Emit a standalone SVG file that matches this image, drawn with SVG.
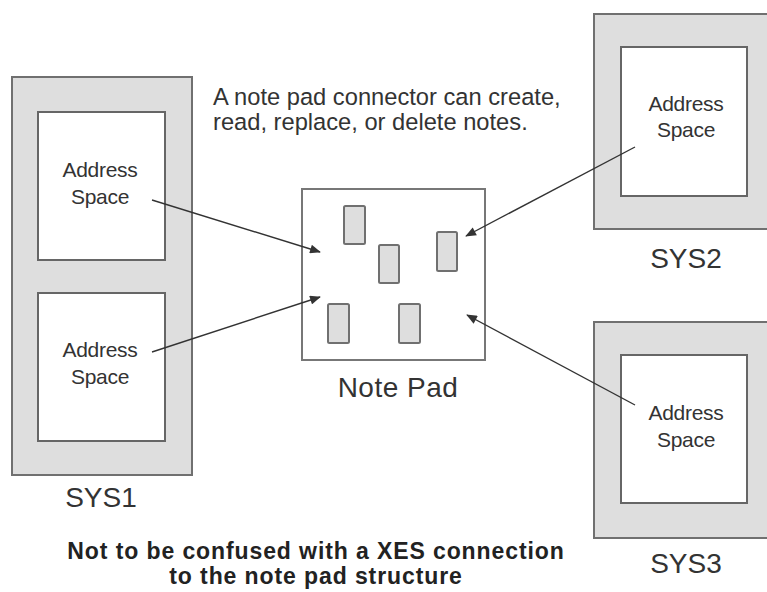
<svg xmlns="http://www.w3.org/2000/svg" width="767" height="592" viewBox="0 0 767 592">
<style>
.sys{fill:#dedede;stroke:#707070;stroke-width:2}
.as{fill:#ffffff;stroke:#666666;stroke-width:2}
.note{fill:#dedede;stroke:#707070;stroke-width:2}
.pad{fill:#ffffff;stroke:#777777;stroke-width:2}
.t{font-family:"Liberation Sans",Arial,sans-serif;fill:#333333}
.ast{font-size:21px;text-anchor:middle;letter-spacing:-0.3px}
.lbl{font-size:28px;text-anchor:middle}
.foot{font-size:23px;font-weight:bold;text-anchor:middle;letter-spacing:0.9px;fill:#222222}
.conn{stroke:#333333;stroke-width:1.4;fill:none;marker-end:url(#ah)}
</style>
<defs>
<marker id="ah" viewBox="0 0 12 10" refX="11" refY="5" markerWidth="12" markerHeight="9" markerUnits="userSpaceOnUse" orient="auto">
<path d="M0,0 L12,5 L0,10 z" fill="#333333"/>
</marker>
</defs>
<rect width="767" height="592" fill="#ffffff"/>
<g id="sys1">
<rect class="sys" x="12" y="77" width="180" height="398"/>
<text class="t lbl" x="101" y="507">SYS1</text>
</g>
<g id="sys1-as1">
<rect class="as" x="38" y="112" width="127" height="148"/>
<text class="t ast" x="100" y="177">Address</text>
<text class="t ast" x="100" y="204">Space</text>
</g>
<g id="sys1-as2">
<rect class="as" x="38" y="293" width="127" height="148"/>
<text class="t ast" x="100" y="357">Address</text>
<text class="t ast" x="100" y="384">Space</text>
</g>
<g id="sys2">
<rect class="sys" x="594" y="14" width="190" height="215"/>
<rect class="as" x="621" y="47" width="126" height="149"/>
<text class="t ast" x="686" y="111">Address</text>
<text class="t ast" x="686" y="137">Space</text>
<text class="t lbl" x="686" y="268">SYS2</text>
</g>
<g id="sys3">
<rect class="sys" x="594" y="322" width="190" height="216"/>
<rect class="as" x="621" y="355" width="126" height="148"/>
<text class="t ast" x="686" y="420">Address</text>
<text class="t ast" x="686" y="447">Space</text>
<text class="t lbl" x="686" y="573">SYS3</text>
</g>
<g id="notepad">
<rect class="pad" x="302" y="189" width="183" height="171"/>
<rect class="note" x="344" y="206" width="21" height="38" rx="1.5"/>
<rect class="note" x="379" y="245" width="20" height="38" rx="1.5"/>
<rect class="note" x="437" y="232" width="20" height="39" rx="1.5"/>
<rect class="note" x="328" y="304" width="21" height="39" rx="1.5"/>
<rect class="note" x="399" y="304" width="21" height="39" rx="1.5"/>
<text class="t" x="398" y="397" font-size="28" letter-spacing="0.5" text-anchor="middle">Note Pad</text>
</g>
<g id="caption">
<text class="t" x="213" y="105" font-size="23.7">A note pad connector can create,</text>
<text class="t" x="213" y="130" font-size="23.7">read, replace, or delete notes.</text>
</g>
<g id="footer">
<text class="t foot" x="316" y="559">Not to be confused with a XES connection</text>
<text class="t foot" x="316" y="584">to the note pad structure</text>
</g>
<g id="connectors">
<line class="conn" x1="152" y1="200" x2="320" y2="252"/>
<line class="conn" x1="152" y1="352" x2="320" y2="297"/>
<line class="conn" x1="635" y1="147" x2="466" y2="236"/>
<line class="conn" x1="635" y1="405" x2="467" y2="315"/>
</g>
</svg>
